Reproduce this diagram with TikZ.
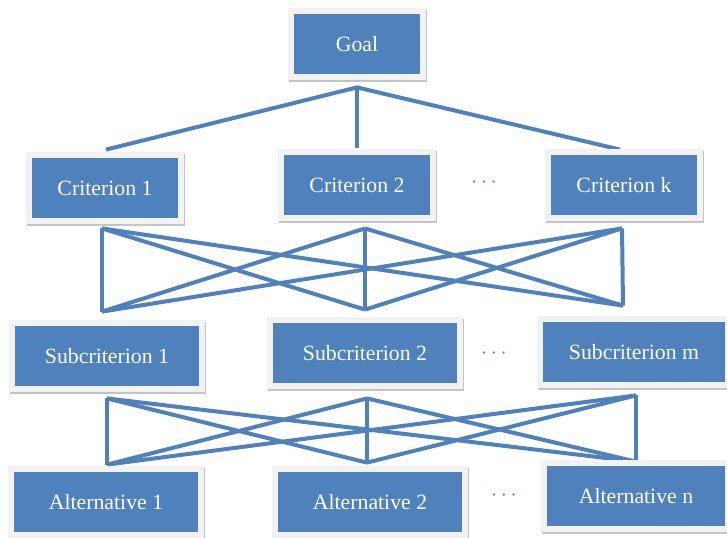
\documentclass[tikz,border=0pt]{standalone}
\usepackage{fontspec}
\setmainfont{Liberation Serif}
\usetikzlibrary{backgrounds,calc,shadows}
\definecolor{hblue}{HTML}{4F81BD}
\definecolor{hframe}{HTML}{F2F2F2}
\definecolor{hshade}{HTML}{C4C4C4}

\begin{document}
\begin{tikzpicture}[
      x=0.5pt,y=-0.5pt,
      box/.style={fill=hframe,inner sep=0,minimum width=98pt,minimum height=36pt,
        text=white,font=\fontsize{10.9}{13}\selectfont,
        drop shadow={shadow xshift=0.5pt,shadow yshift=-1pt,fill=hshade,opacity=1},
        path picture={\fill[hblue]
          ([shift={(3pt,3pt)}]path picture bounding box.south west) rectangle
          ([shift={(-3pt,-3pt)}]path picture bounding box.north east);}},
      narrow/.style={minimum width=79pt},
      link/.style={hblue,line width=2pt},
      dots/.style={text=hblue,inner sep=0,font=\fontsize{10.9}{13}\selectfont},
    ]
    \useasboundingbox (0,0) rectangle (727,537);
    \node (goal) [box,minimum width=69pt] at (357,44) {Goal};
    %
    \node (c1) [box,narrow] at (105,188) {Criterion 1};
    \node (c2) [box,narrow] at (357,185) {Criterion 2};
    \node (ck) [box,narrow] at (624,185) {Criterion k};
    \node (dc) [dots] at (484,183) {$\cdots$};
    %
    \node (s1) [box] at (107,356) {Subcriterion 1};
    \node (s2) [box] at (365,353) {Subcriterion 2};
    \node (sm) [box,minimum width=97pt] at (634,352) {Subcriterion m};
    \node (ds) [dots] at (494,354) {$\cdots$};
    %
    \node (a1) [box] at (106,502) {Alternative 1};
    \node (a2) [box] at (370,502) {Alternative 2};
    \node (an) [box,minimum width=95pt] at (636,496) {Alternative n};
    \node (da) [dots] at (504,496) {$\cdots$};
    %
    \coordinate (g-out) at ($(goal.south)+(0,7)$);
    \coordinate (c1-in) at ($(c1.north)+(1,-2)$);
    \coordinate (c2-in) at ($(c2.north)+(0,-1)$);
    \coordinate (ck-in) at ($(ck.north)+(-4,1)$);
    \coordinate (c1-out) at ($(c1.south)+(-3,4)$);
    \coordinate (c2-out) at ($(c2.south)+(8,7)$);
    \coordinate (ck-out) at ($(ck.south)+(-2,7)$);
    \coordinate (s1-in) at ($(s1.north)+(-5,-8)$);
    \coordinate (s2-in) at ($(s2.north)+(0,-7)$);
    \coordinate (sm-in) at ($(sm.north)+(-11,-10)$);
    \coordinate (s1-out) at ($(s1.south)+(0,6)$);
    \coordinate (s2-out) at ($(s2.south)+(2,9)$);
    \coordinate (sm-out) at ($(sm.south)+(2,7)$);
    \coordinate (a1-in) at ($(a1.north)+(1,-1)$);
    \coordinate (a2-in) at ($(a2.north)+(-3,-3)$);
    \coordinate (an-in) at ($(an.north)+(0,2)$);
    %
    \begin{scope}[on background layer]
      \draw [link] (c1-in) -- (g-out) -- (ck-in);
      \draw [link] (g-out) -- (c2-in);
      \foreach \u in {c1,c2,ck}
        \foreach \l in {s1,s2,sm}
          \draw [link] (\u-out) -- (\l-in);
      \foreach \u in {s1,s2,sm}
        \foreach \l in {a1,a2,an}
          \draw [link] (\u-out) -- (\l-in);
    \end{scope}
  \end{tikzpicture}
\end{document}
